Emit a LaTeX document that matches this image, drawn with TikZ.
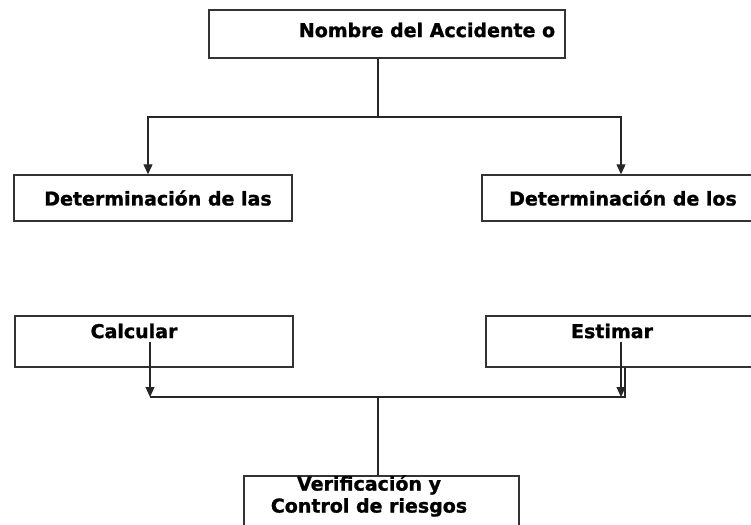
\documentclass[tikz,border=0pt]{standalone}
\usepackage{fontspec}
\setmainfont{DejaVu Sans}[BoldFeatures={FakeBold=1.2}]
\usetikzlibrary{positioning}
\usetikzlibrary{arrows.meta}
\tikzset{>={Triangle[length=10pt,width=9pt]}}
\tikzset{caja/.style={draw=black!80, line width=1.4pt, inner sep=0pt},
         linea/.style={line width=1.2pt, draw=black!85},
         texto/.style={font=\bfseries\fontsize{19}{22}\selectfont, inner sep=0pt}}

\begin{document}
\begin{tikzpicture}[x=1pt,y=-1pt]
\useasboundingbox (0,0) rectangle (751,524);
% cajas
\node[caja, minimum width=356, minimum height=48] (accidente) at (387,34) {};
\node[caja, minimum width=278, minimum height=46] (detLas) at (153,198) {};
\node[caja, minimum width=278, minimum height=46] (detLos) at (621,198) {};
\node[caja, minimum width=278, minimum height=51] (calcular) at (154,341.5) {};
\node[caja, minimum width=274, minimum height=51] (estimar) at (623,341.5) {};
\node[caja, minimum width=275, minimum height=64] (verificacion) at (381.5,508) {};

% textos
\node[texto] (tAccidente) at (427,30) {Nombre del Accidente o};
\node[texto] (tLas) at (158,198) {Determinación de las};
\node[texto] (tLos) at (623,198) {Determinación de los};
\node[texto] (tCalcular) at (134,331) {Calcular};
\node[texto] (tEstimar) at (612,331) {Estimar};
\node[texto, align=center] (tVerif) at (369,496) {Verificación y\\Control de riesgos};

% conectores
\coordinate (rama) at (378,117);
\coordinate (unionIzq) at (150,397);
\coordinate (unionDer) at (625,397);
\coordinate (flechaDer) at (621,397);
\coordinate (union) at (378,397);

\draw[linea] (accidente.south -| rama) -- (rama);
\draw[linea, ->] (rama) -| ([xshift=-5pt]detLas.north);
\draw[linea, ->] (rama) -| (detLos.north);
\draw[linea, ->] (calcular.center -| unionIzq) -- (unionIzq);
\draw[linea, ->] (estimar.center -| flechaDer) -- (flechaDer);
\draw[linea] (unionIzq) -- (unionDer) -- (estimar.south -| unionDer);
\draw[linea] (union) -- (verificacion.north -| union);
\end{tikzpicture}
\end{document}
